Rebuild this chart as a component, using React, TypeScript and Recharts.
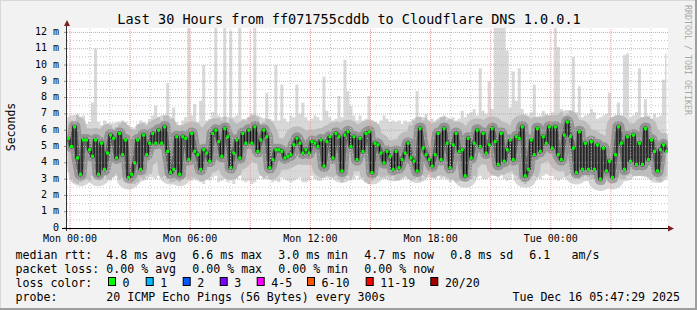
import { Area, ComposedChart, Line, ReferenceLine, XAxis, YAxis } from "recharts";

// 200 samples of 9 minutes, starting Sun 23:51 (hour -0.15 relative to Mon 00:00)
const START_HOUR = -0.15;
const STEP_HOURS = 0.15;

// median rtt per sample, in ms
const MEDIAN = [
  5.5, 5.0, 6.2, 4.3, 3.3, 5.4, 5.4, 4.8, 4.4, 5.4,
  3.3, 5.2, 3.6, 4.6, 5.7, 5.5, 4.3, 5.8, 4.5, 5.4,
  3.1, 3.3, 4.0, 5.4, 3.6, 5.7, 4.5, 5.2, 5.8, 5.2,
  6.0, 5.2, 6.2, 4.7, 3.4, 3.6, 5.6, 3.3, 5.6, 5.5,
  4.2, 5.8, 4.7, 4.5, 3.6, 4.8, 4.6, 4.1, 5.8, 6.0,
  5.3, 4.4, 6.1, 5.6, 3.7, 4.6, 5.4, 4.3, 5.8, 5.2,
  6.0, 5.2, 6.2, 4.7, 5.4, 6.0, 5.6, 3.7, 4.2, 4.8,
  4.8, 4.7, 4.3, 4.4, 4.5, 5.1, 5.5, 5.2, 4.6, 4.8,
  4.6, 5.3, 5.2, 5.0, 5.4, 3.8, 5.3, 5.6, 4.3, 5.8,
  5.6, 3.5, 5.7, 5.9, 5.0, 5.6, 4.2, 5.5, 4.7, 5.8,
  5.9, 3.4, 5.2, 5.1, 4.6, 4.0, 4.7, 4.4, 3.6, 4.7,
  3.7, 4.2, 4.6, 5.2, 4.3, 4.1, 3.5, 6.1, 4.9, 4.5,
  4.2, 3.8, 4.5, 5.8, 4.2, 6.1, 5.2, 3.7, 5.1, 5.8,
  4.7, 4.8, 3.2, 5.5, 4.3, 5.2, 6.0, 5.0, 5.8, 4.6,
  5.1, 6.1, 5.3, 3.9, 5.8, 4.1, 4.8, 5.4, 4.2, 5.6,
  5.5, 6.2, 3.2, 3.6, 5.4, 4.5, 6.1, 4.7, 5.6, 5.2,
  6.2, 4.9, 6.2, 4.5, 4.2, 5.7, 6.5, 5.6, 4.9, 3.4,
  5.9, 3.6, 5.2, 3.6, 5.3, 3.6, 5.1, 3.0, 4.9, 3.5,
  4.1, 3.1, 4.5, 6.2, 5.2, 3.6, 5.6, 4.1, 5.7, 3.9,
  5.2, 3.9, 6.1, 4.2, 5.4, 4.7, 3.5, 4.8, 5.1, 4.7,
];

// fastest ping per sample (bottom of the smoke)
const LOW = [
  3.4, 3.0, 2.8, 2.7, 2.8, 2.9, 3.0, 2.9, 3.2, 3.1,
  3.0, 3.1, 3.2, 3.0, 2.9, 3.1, 3.2, 3.0, 3.1, 3.2,
  2.9, 2.7, 2.7, 2.8, 3.1, 3.0, 3.2, 3.3, 3.1, 3.0,
  3.2, 3.1, 3.2, 3.0, 2.8, 2.8, 2.9, 2.8, 3.0, 3.1,
  3.0, 2.9, 3.1, 3.0, 2.8, 2.7, 3.0, 2.9, 3.1, 3.2,
  2.8, 2.9, 3.0, 2.8, 2.9, 2.7, 3.0, 3.2, 2.9, 2.8,
  2.9, 2.7, 2.8, 3.0, 3.2, 3.0, 3.2, 3.0, 2.8, 2.9,
  2.8, 3.1, 3.0, 2.9, 2.8, 2.9, 3.0, 3.1, 2.8, 2.8,
  2.9, 3.2, 3.0, 2.9, 2.9, 3.1, 3.2, 3.0, 3.1, 3.2,
  3.0, 2.8, 3.0, 3.2, 2.9, 3.0, 3.2, 3.0, 3.1, 2.8,
  2.7, 2.9, 3.1, 3.2, 3.1, 3.0, 3.2, 3.1, 3.2, 2.9,
  2.9, 3.1, 3.2, 3.0, 2.9, 3.0, 3.1, 2.9, 3.2, 3.1,
  3.3, 3.1, 3.0, 3.2, 3.0, 3.2, 3.1, 2.8, 2.9, 2.8,
  2.9, 2.9, 2.9, 3.1, 3.0, 3.2, 3.1, 3.2, 3.0, 3.0,
  3.1, 3.2, 3.2, 3.1, 3.3, 3.0, 2.9, 3.0, 3.3, 3.2,
  3.0, 2.8, 2.7, 2.9, 3.1, 3.2, 3.1, 3.0, 3.2, 3.3,
  3.2, 3.2, 3.0, 2.9, 3.0, 3.1, 3.2, 3.3, 3.2, 3.1,
  3.0, 3.1, 3.2, 3.1, 3.0, 3.0, 2.9, 3.1, 3.1, 3.2,
  3.2, 3.3, 3.1, 3.1, 3.0, 3.0, 3.2, 3.3, 3.2, 3.2,
  3.2, 3.2, 3.1, 3.1, 3.0, 3.1, 2.9, 2.8, 3.1, 3.2,
];

// slowest ping per sample (top of the smoke, incl. spikes)
const PEAK = [
  6.5, 6.6, 6.3, 7.0, 6.8, 6.9, 6.4, 6.5, 7.7, 11.0,
  6.5, 6.3, 6.6, 6.4, 6.3, 6.1, 6.2, 6.4, 6.6, 6.5,
  6.3, 6.2, 6.0, 6.4, 6.6, 6.5, 6.3, 6.7, 6.9, 7.5,
  6.8, 6.6, 6.9, 8.9, 6.7, 7.4, 6.5, 6.3, 6.6, 6.8,
  12.3, 6.9, 7.6, 6.5, 7.8, 10.0, 6.6, 6.7, 7.1, 12.3,
  6.9, 6.6, 12.3, 6.5, 12.1, 6.8, 6.9, 12.3, 6.7, 6.6,
  6.8, 7.0, 12.3, 6.8, 6.4, 6.5, 8.3, 6.7, 6.6, 10.0,
  6.6, 8.8, 6.7, 6.5, 6.9, 6.8, 8.8, 7.0, 7.7, 6.8,
  6.6, 6.7, 6.9, 6.8, 6.6, 9.3, 7.2, 6.8, 6.6, 6.7,
  8.1, 6.8, 10.3, 8.4, 7.5, 6.9, 6.6, 6.9, 6.6, 6.7,
  8.1, 6.6, 6.5, 6.4, 6.6, 6.9, 6.7, 6.5, 6.6, 6.5,
  6.6, 6.4, 6.6, 6.5, 6.3, 6.6, 8.4, 6.8, 6.6, 7.0,
  6.6, 6.7, 6.5, 6.6, 6.8, 6.9, 6.6, 6.7, 6.8, 6.6,
  6.7, 7.2, 6.8, 7.0, 7.1, 7.3, 6.9, 9.8, 7.2, 7.0,
  9.0, 7.3, 12.3, 12.3, 12.3, 12.3, 10.9, 7.4, 9.6, 7.8,
  9.8, 7.3, 7.0, 6.9, 7.1, 8.8, 6.8, 6.9, 7.2, 7.0,
  6.9, 7.1, 12.3, 11.1, 7.3, 6.9, 7.0, 7.2, 10.5, 7.1,
  8.7, 6.8, 6.9, 7.0, 7.3, 7.1, 6.7, 6.8, 6.9, 7.0,
  8.3, 6.8, 6.9, 7.7, 6.9, 10.6, 10.7, 6.8, 6.9, 7.1,
  9.8, 6.8, 7.9, 6.9, 6.7, 7.0, 6.8, 6.9, 9.1, 10.7,
];

const Y_TICKS = [0, 1, 2, 3, 4, 5, 6, 7, 8, 9, 10, 11, 12];
const Y_MINOR = [0.5, 1.5, 2.5, 3.5, 4.5, 5.5, 6.5, 7.5, 8.5, 9.5, 10.5, 11.5];
const HOURS = [
  0, 1, 2, 3, 4, 5, 6, 7, 8, 9, 10, 11, 12, 13, 14, 15, 16, 17, 18, 19,
  20, 21, 22, 23, 24, 25, 26, 27, 28, 29,
];
const MAJOR_HOURS = [0, 3, 6, 9, 12, 15, 18, 21, 24, 27];
const LABEL_HOURS = [0, 6, 12, 18, 24];
const HOUR_LABELS = ["Mon 00:00", "Mon 06:00", "Mon 12:00", "Mon 18:00", "Tue 00:00"];

const RTT_STATS = ["4.8 ms avg", "6.6 ms max", "3.0 ms min", "4.7 ms now", "0.8 ms sd"];
const LOSS_STATS = ["0.00 % avg", "0.00 % max", "0.00 % min", "0.00 % now"];
const LOSS_LABELS = ["0", "1", "2", "3", "4-5", "6-10", "11-19", "20/20"];
const LOSS_COLORS = [
  "#00ff00", "#00b8ff", "#0059ff", "#7e00ff",
  "#ff00ff", "#ff5500", "#ff0000", "#a10000",
];

// layout (pixels)
const STAT_X = [107, 193, 279, 365, 451];
const BOX_X = [108, 145.7, 182.7, 219.7, 256.7, 307, 365.7, 430.3];
const MONO = "'DejaVu Sans Mono', monospace";
const X_DOMAIN = [START_HOUR, START_HOUR + 30];
const Y_DOMAIN = [0, 12.27];

const data = MEDIAN.map((m, i) => ({
  t: START_HOUR + (i + 0.5) * STEP_HOURS,
  median: m,
  smoke: [LOW[i], PEAK[i]],
}));

function HourTick(props: any) {
  const { x, y, payload } = props;
  const h = payload.value;
  const idx = LABEL_HOURS.indexOf(h);
  return (
    <g>
      <line
        x1={x}
        x2={x}
        y1={y}
        y2={y + 2}
        stroke={h % 3 === 0 ? "#e07070" : "#b8b8b8"}
      />
      {idx >= 0 && (
        <text x={x} y={y + 13.5} textAnchor="middle" fontFamily={MONO} fontSize={10} fill="#000">
          {HOUR_LABELS[idx]}
        </text>
      )}
    </g>
  );
}

function GreenDot(props: any) {
  const { cx, cy, index } = props;
  if (cx == null || cy == null) return <g key={`g${index}`} />;
  return <rect key={`g${index}`} x={cx - 1.5} y={cy - 1.5} width={3} height={3} fill="#00ff00" />;
}

// wide translucent strokes around the median give the darker core of the smoke
function haze(width: number, color: string, opacity: number) {
  return (
    <Line
      dataKey="median"
      type="linear"
      stroke={color}
      strokeWidth={width}
      strokeOpacity={opacity}
      strokeLinecap="butt"
      strokeLinejoin="round"
      dot={false}
      activeDot={false}
      isAnimationActive={false}
    />
  );
}

const layer = { position: "absolute" as const, left: 0, top: 0 };

export default function App() {
  return (
    <div
      style={{
        position: "relative",
        width: 697,
        height: 310,
        background: "#f2f2f2",
        boxShadow: "inset -2px -2px 0 #9e9e9e, inset 1px 1px 0 #d8d8d8",
        overflow: "hidden",
      }}
    >
      <style>{"body{margin:0}"}</style>
      <div style={{ position: "absolute", left: 67, top: 28, width: 601, height: 200, background: "#fff" }} />
      {/* smoke + axes */}
      <div style={layer}>
        <ComposedChart
          width={697}
          height={310}
          data={data}
          margin={{ top: 28, right: 29, bottom: 52, left: 17 }}
        >
          <XAxis
            dataKey="t"
            type="number"
            domain={X_DOMAIN}
            ticks={HOURS}
            interval={0}
            allowDataOverflow
            axisLine={false}
            tickLine={false}
            tickSize={0}
            tickMargin={0}
            height={30}
            tick={<HourTick />}
          />
          <YAxis
            type="number"
            domain={Y_DOMAIN}
            ticks={Y_TICKS}
            interval={0}
            allowDataOverflow
            width={50}
            axisLine={false}
            tickSize={3}
            tickMargin={5}
            tickLine={{ stroke: "#909090" }}
            tick={{ fontFamily: MONO, fontSize: 10, fill: "#000", dy: -1 }}
            tickFormatter={(v: number) => (v === 0 ? "0" : `${v} m`)}
          />
          <Area
            dataKey="smoke"
            type="step"
            stroke="none"
            fill="#d8d8d8"
            fillOpacity={1}
            isAnimationActive={false}
            activeDot={false}
          />
          {haze(24, "#8a8a8a", 0.35)}
          {haze(12, "#555555", 0.4)}
          {haze(5, "#2a2a2a", 0.45)}
        </ComposedChart>
      </div>
      {/* grid on top of the smoke, then the median */}
      <div style={layer}>
        <ComposedChart
          width={697}
          height={310}
          data={data}
          margin={{ top: 28, right: 29, bottom: 82, left: 67 }}
        >
          <XAxis dataKey="t" type="number" domain={X_DOMAIN} allowDataOverflow hide />
          <YAxis type="number" domain={Y_DOMAIN} allowDataOverflow hide />
          {Y_MINOR.map((v) => (
            <ReferenceLine key={`hy${v}`} y={v} stroke="#c4c4c4" strokeDasharray="1 2" />
          ))}
          {HOURS.filter((h) => h % 3 !== 0).map((h) => (
            <ReferenceLine key={`hx${h}`} x={h} stroke="#c4c4c4" strokeDasharray="1 2" />
          ))}
          {Y_TICKS.filter((v) => v > 0).map((v) => (
            <ReferenceLine key={`my${v}`} y={v} stroke="#f09a9a" strokeDasharray="1 1" />
          ))}
          {MAJOR_HOURS.map((h) => (
            <ReferenceLine key={`mx${h}`} x={h} stroke="#f09a9a" strokeDasharray="1 1" />
          ))}
          <Line
            dataKey="median"
            type="step"
            stroke="#151515"
            strokeWidth={1.3}
            dot={<GreenDot />}
            activeDot={false}
            isAnimationActive={false}
          />
        </ComposedChart>
      </div>
      <svg width={697} height={310} style={{ ...layer, pointerEvents: "none" }}>
        <text x={349} y={23.5} textAnchor="middle" fontFamily={MONO} fontSize={13.5} fill="#000">
          Last 30 Hours from ff071755cddb to Cloudflare DNS 1.0.0.1
        </text>
        <text
          transform="translate(11,127) rotate(-90)"
          textAnchor="middle"
          dominantBaseline="central"
          fontFamily={MONO}
          fontSize={11.5}
          fill="#000"
        >
          Seconds
        </text>
        <text
          transform="translate(688,5) rotate(90)"
          dominantBaseline="central"
          fontFamily={MONO}
          fontSize={8.3}
          fill="#a8a8a8"
        >
          RRDTOOL / TOBI OETIKER
        </text>
        {/* axes with arrows */}
        <line x1={66.5} x2={66.5} y1={231} y2={25} stroke="#303030" />
        <line x1={62} x2={670} y1={228.5} y2={228.5} stroke="#000" />
        <polygon points="64,26 70,26 67,20" fill="#7f1f1f" />
        <polygon points="668,225.5 668,231.5 674,228.5" fill="#7f1f1f" />
        {/* legend */}
        <g fontFamily={MONO} fontSize={11.6} fill="#000">
          <text x={15.5} y={258.5}>median rtt:</text>
          {RTT_STATS.map((s, i) => (
            <text key={s} x={STAT_X[i] - 0.7} y={258.5}>{s}</text>
          ))}
          <text x={529.3} y={258.5}>6.1</text>
          <text x={571.6} y={258.5}>am/s</text>
          <text x={15.5} y={272.5}>packet loss:</text>
          {LOSS_STATS.map((s, i) => (
            <text key={s} x={STAT_X[i] - 0.7} y={272.5}>{s}</text>
          ))}
          <text x={15.5} y={286.5}>loss color:</text>
          {LOSS_LABELS.map((l, i) => (
            <g key={l}>
              <rect
                x={BOX_X[i] + 0.5}
                y={277.5}
                width={7}
                height={8}
                fill={LOSS_COLORS[i]}
                stroke="#000"
              />
              <text x={BOX_X[i] + 14.6} y={286.5}>{l}</text>
            </g>
          ))}
          <text x={15.5} y={300.5}>probe:</text>
          <text x={106.3} y={300.5}>20 ICMP Echo Pings (56 Bytes) every 300s</text>
          <text x={680} y={300.5} textAnchor="end">Tue Dec 16 05:47:29 2025</text>
        </g>
      </svg>
    </div>
  );
}
